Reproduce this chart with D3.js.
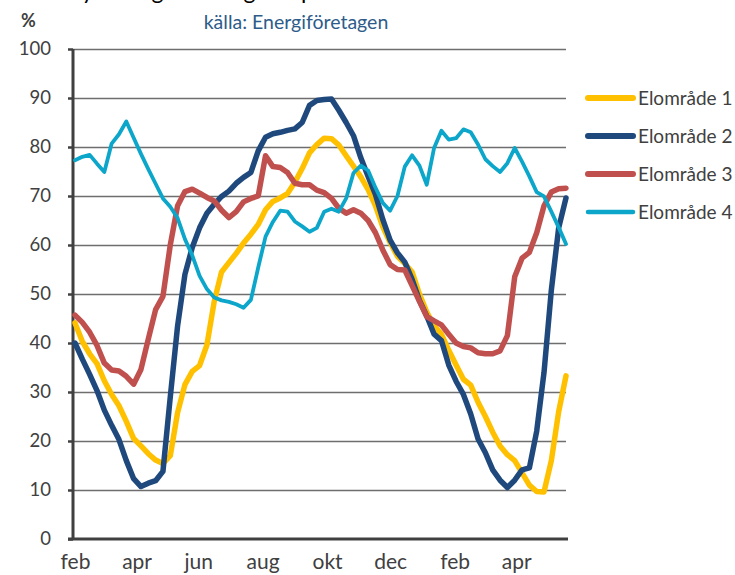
<!DOCTYPE html>
<html>
<head>
<meta charset="utf-8">
<script src="https://cdn.jsdelivr.net/npm/d3@7"></script>
<style>
  body { margin: 0; background: #fff; }
  svg { display: block; font-family: Lato, "Open Sans", sans-serif; }
</style>
</head>
<body>
<svg id="chart" width="735" height="575"></svg>
<script>
// Fyllnadsgrad per elområde, veckovärden (%)
var seriesNames = ["Elområde 1", "Elområde 2", "Elområde 3", "Elområde 4"];
var seriesColors = ["#FFC000", "#1F497D", "#C0504D", "#0BA6CA"];

var elomrade1 = [44.1, 40.3, 37.8, 35.8, 32.3, 29.5, 27.2, 24, 20.5, 19,
  17.4, 16.1, 15.4, 17, 25.8, 31.5, 34.2, 35.4, 39.6, 48.5,
  54.5, 56.4, 58.3, 60.4, 62.2, 64.2, 67.2, 68.9, 69.6, 70.5,
  72.8, 75.6, 78.8, 80.5, 81.8, 81.7, 80.4, 78.2, 76.1, 73.9,
  71.3, 68, 63.7, 60.5, 57.7, 56.2, 54.5, 50, 46.3, 43.5,
  41.8, 38.5, 35.5, 32.6, 31.4, 27.9, 25, 21.8, 19, 17.2,
  16, 13.5, 11, 9.7, 9.6, 16, 26, 33.3];
var elomrade2 = [40, 36.7, 33.6, 30.3, 26.3, 23.2, 20.3, 16, 12.3, 10.7,
  11.4, 11.9, 13.8, 29, 43.5, 54, 59.5, 63.5, 66.5, 68.3,
  69.9, 71, 72.6, 73.8, 74.8, 79.2, 82, 82.7, 83, 83.4,
  83.7, 85, 88.5, 89.5, 89.7, 89.8, 87.5, 85, 82.3, 77.8,
  74, 70.3, 65.2, 61, 58.4, 56.5, 53, 48.7, 45.5, 41.8,
  40.5, 35.5, 32.2, 29.5, 25.5, 20.4, 17.6, 14.1, 12, 10.5,
  12, 14.1, 14.5, 22, 34, 50.8, 63.5, 69.6];
var elomrade3 = [45.7, 44.2, 42.2, 39.5, 35.9, 34.5, 34.3, 33.2, 31.6, 34.6,
  40.8, 46.8, 49.5, 60, 68, 70.9, 71.4, 70.6, 69.7, 69,
  67.1, 65.6, 66.8, 68.8, 69.5, 70, 78.2, 76, 75.8, 74.8,
  72.6, 72.3, 72.3, 71.2, 70.7, 69.5, 67.5, 66.5, 67.2, 66.5,
  65, 62.5, 59, 56, 55, 54.9, 51.7, 48.5, 45.4, 44.5,
  43.7, 41.8, 40, 39.3, 39, 38, 37.8, 37.8, 38.4, 41.5,
  53.5, 57.3, 58.5, 62.5, 68, 70.8, 71.5, 71.6];
var elomrade4 = [77.3, 78, 78.4, 76.6, 74.9, 80.7, 82.6, 85.2, 81.9, 78.6,
  75.5, 72.5, 69.5, 67.8, 65.5, 61.2, 57.9, 53.7, 51, 49.3,
  48.7, 48.4, 47.9, 47.2, 48.8, 55.4, 61.7, 64.7, 67, 66.8,
  64.8, 63.8, 62.7, 63.5, 66.8, 67.4, 66.8, 69.5, 74.7, 76.2,
  75.2, 71.7, 68.6, 67, 70, 76, 78.3, 76.2, 72.3, 79.8,
  83.3, 81.5, 81.8, 83.6, 83, 80.5, 77.5, 76.1, 74.9, 76.7,
  79.8, 77, 74, 70.8, 69.9, 66.8, 63.6, 60.2];

// månadsetiketter och vilken vecka (index) de hamnar på
var monthLabels = ["feb", "apr", "jun", "aug", "okt", "dec", "feb", "apr"];
var monthWeeks = [0, 8.4, 16.8, 25.6, 34.4, 43, 51.8, 60.2];
var yTicks = [0, 10, 20, 30, 40, 50, 60, 70, 80, 90, 100];

var allSeries = [elomrade1, elomrade2, elomrade3, elomrade4];

// plot area
var plotLeft = 73, plotRight = 566, plotTop = 49, plotBottom = 539;

var svg = d3.select("#chart");

var x = d3.scaleLinear().domain([0, elomrade1.length - 1]).range([75, 566]);
var y = d3.scaleLinear().domain([0, 100]).range([plotBottom, plotTop]);

// title: in the reference it sits above the top edge, only descenders show
svg.append("text")
  .attr("x", 69)
  .attr("y", -1)
  .attr("font-size", 23)
  .attr("fill", "#000")
  .text("Fyllnadsgrad i magasin per elområde");

svg.append("text")
  .attr("x", 296)
  .attr("y", 29)
  .attr("text-anchor", "middle")
  .attr("font-size", 19.5)
  .attr("fill", "#2E5C8A")
  .text("källa: Energiföretagen");

svg.append("text")
  .attr("x", 21)
  .attr("y", 27)
  .attr("font-size", 18)
  .attr("font-weight", "bold")
  .attr("fill", "#404040")
  .text("%");

// gridlines
svg.append("g")
  .attr("transform", "translate(" + plotLeft + ",0)")
  .call(d3.axisLeft(y).tickValues(yTicks.slice(1)).tickSize(-(plotRight - plotLeft)).tickFormat(""))
  .call(g => g.select(".domain").remove())
  .call(g => g.selectAll("line").attr("stroke", "#6e6e6e").attr("stroke-width", 1.6));

// y axis
svg.append("g")
  .attr("transform", "translate(" + plotLeft + ",0)")
  .call(d3.axisLeft(y).tickValues(yTicks).tickSize(5).tickPadding(17))
  .call(g => g.select(".domain").remove())
  .call(g => g.selectAll("line").attr("stroke", "#404040").attr("stroke-width", 2.5))
  .call(g => g.selectAll("text").attr("font-size", 18.5).attr("fill", "#404040")
    .attr("font-family", "Lato, sans-serif"));

// x axis labels
svg.append("g")
  .attr("transform", "translate(0," + plotBottom + ")")
  .call(d3.axisBottom(x).tickValues(monthWeeks).tickSize(0).tickPadding(15)
    .tickFormat((d, i) => monthLabels[i]))
  .call(g => g.select(".domain").remove())
  .call(g => g.selectAll("text").attr("font-size", 21).attr("fill", "#404040")
    .attr("font-family", "Lato, sans-serif"));

// axis lines
svg.append("line")
  .attr("x1", plotLeft).attr("x2", plotLeft).attr("y1", plotTop).attr("y2", plotBottom)
  .attr("stroke", "#404040").attr("stroke-width", 3);
svg.append("line")
  .attr("x1", plotLeft - 5).attr("x2", plotRight + 2).attr("y1", plotBottom).attr("y2", plotBottom)
  .attr("stroke", "#404040").attr("stroke-width", 3);

// series
var line = d3.line()
  .x((d, i) => x(i))
  .y(d => y(d));

var widths = [5.5, 5.5, 5.5, 3.8];

svg.append("g")
  .selectAll("path")
  .data(allSeries)
  .join("path")
  .attr("d", line)
  .attr("fill", "none")
  .attr("stroke", (d, i) => seriesColors[i])
  .attr("stroke-width", (d, i) => widths[i])
  .attr("stroke-linejoin", "round")
  .attr("stroke-linecap", "round");

// legend
var legend = svg.append("g")
  .selectAll("g")
  .data(seriesNames)
  .join("g")
  .attr("transform", (d, i) => "translate(588," + (98 + i * 38) + ")");

legend.append("line")
  .attr("x1", 0).attr("x2", 45)
  .attr("stroke", (d, i) => seriesColors[i])
  .attr("stroke-width", (d, i) => i < 3 ? 6 : 4.5)
  .attr("stroke-linecap", "round");

legend.append("text")
  .attr("x", 50)
  .attr("dy", "0.35em")
  .attr("font-size", 19)
  .attr("fill", "#404040")
  .text(d => d);
</script>
</body>
</html>
